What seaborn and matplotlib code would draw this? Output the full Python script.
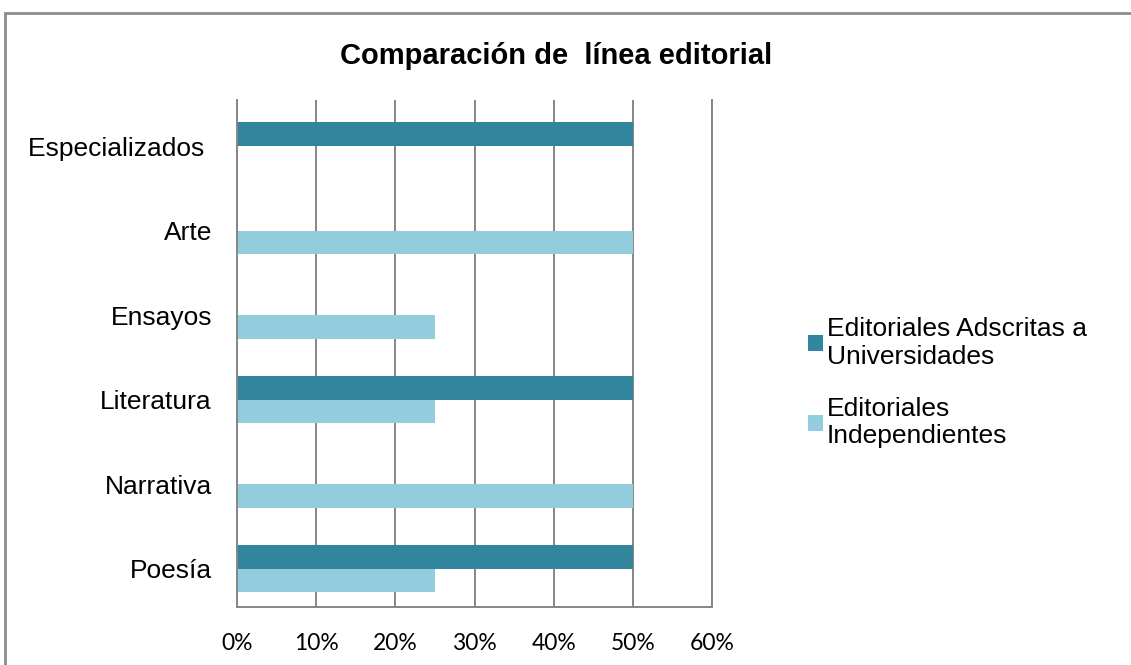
import matplotlib
matplotlib.use("Agg")
import matplotlib.pyplot as plt
import seaborn as sns
import pandas as pd
from matplotlib.patches import Rectangle, Patch
from matplotlib.ticker import FuncFormatter

categories = ["Especializados ", "Arte", "Ensayos", "Literatura", "Narrativa", "Poesía"]
series_names = ["Editoriales Adscritas a Universidades", "Editoriales Independientes"]
legend_labels = ["Editoriales Adscritas a\nUniversidades", "Editoriales\nIndependientes"]
adscritas = [50, 0, 0, 50, 0, 50]
independientes = [0, 50, 25, 25, 50, 25]
x_ticks = [0, 10, 20, 30, 40, 50, 60]
colors = ["#31859C", "#93CDDD"]

df = pd.DataFrame({
    "categoria": categories * 2,
    "serie": [series_names[0]] * len(categories) + [series_names[1]] * len(categories),
    "valor": adscritas + independientes,
})

sns.set_theme(style="white")
plt.rcParams["font.family"] = ["Liberation Sans", "DejaVu Sans"]
plt.rcParams["text.color"] = "black"
plt.rcParams["xtick.color"] = "black"
plt.rcParams["ytick.color"] = "black"

fig = plt.figure(figsize=(11.31, 6.65), dpi=100)
ax = fig.add_axes([237 / 1131, 1 - 607 / 665, 475 / 1131, 507 / 665])

sns.barplot(data=df, y="categoria", x="valor", hue="serie", order=categories,
            hue_order=series_names, palette=colors, orient="h", width=0.56,
            saturation=1, ax=ax, legend=False, linewidth=0)

ax.set_xlim(0, 60)
ax.set_ylim(5.5 - 0.045, -0.5 - 0.045)
ax.set_xticks(x_ticks)
ax.xaxis.set_major_formatter(FuncFormatter(lambda v, p: f"{v:.0f}%"))
ax.set_xlabel("")
ax.set_ylabel("")
ax.grid(axis="x", color="#868686", linewidth=1.4)
ax.grid(axis="y", visible=False)
ax.set_axisbelow(True)
for side in ["left", "bottom", "right"]:
    ax.spines[side].set_color("#868686")
    ax.spines[side].set_linewidth(1.4)
ax.spines["top"].set_visible(False)
ax.tick_params(axis="both", length=0)
ax.tick_params(axis="x", pad=19)
ax.tick_params(axis="y", pad=18)
for lbl in ax.get_xticklabels():
    lbl.set_fontfamily(["Lato", "DejaVu Sans"])
    lbl.set_fontsize(16.5)
for lbl in ax.get_yticklabels():
    lbl.set_fontsize(19)

fig.text(556 / 1131, 1 - 56 / 665, "Comparación de  línea editorial",
         ha="center", va="center", fontsize=21, fontweight="bold")

handles = [Patch(facecolor=c, edgecolor="none") for c in colors]
fig.legend(handles, legend_labels, loc="upper left",
           bbox_to_anchor=(787 / 1131, 1 - 296 / 665), frameon=False,
           fontsize=19, handlelength=0.55, handleheight=0.55,
           handletextpad=0.15, labelspacing=1.05, borderpad=0.3)

fig.patches.append(Rectangle((5 / 1131, -0.05), 1.2, 0.05 + 1 - 13 / 665,
                             transform=fig.transFigure, fill=False,
                             edgecolor="#8c8c8c", linewidth=2.0))

fig.savefig("out.png", dpi=100)
